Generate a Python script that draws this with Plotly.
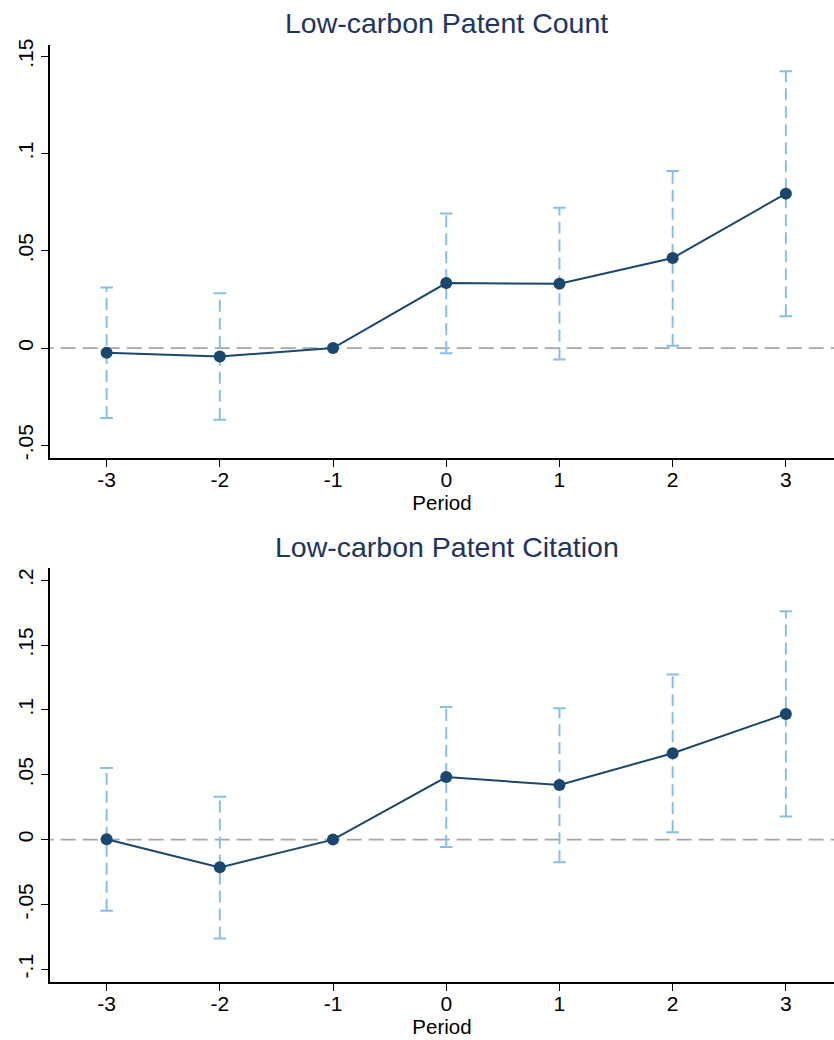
import plotly.graph_objects as go

periods = [-3, -2, -1, 0, 1, 2, 3]

# Panel 1: Low-carbon Patent Count
count_coef = [-0.0024, -0.0043, 0.0, 0.0334, 0.0331, 0.0463, 0.0794]
count_lo = [-0.0360, -0.0369, None, -0.0027, -0.0059, 0.0012, 0.0164]
count_hi = [0.0312, 0.0282, None, 0.0692, 0.0721, 0.0910, 0.1423]

# Panel 2: Low-carbon Patent Citation
cite_coef = [0.0003, -0.0214, 0.0, 0.0482, 0.0421, 0.0666, 0.0969]
cite_lo = [-0.0548, -0.0763, None, -0.0057, -0.0174, 0.0056, 0.0178]
cite_hi = [0.0553, 0.0330, None, 0.1023, 0.1013, 0.1273, 0.1761]

titles = ["Low-carbon Patent Count", "Low-carbon Patent Citation"]
y_tickvals = [[-0.05, 0, 0.05, 0.1, 0.15], [-0.1, -0.05, 0, 0.05, 0.1, 0.15, 0.2]]
y_ticktext = [["-.05", "0", ".05", ".1", ".15"], ["-.1", "-.05", "0", ".05", ".1", ".15", ".2"]]
y_ranges = [[-0.0566, 0.1558], [-0.1099, 0.2097]]
x_ticks = [-3, -2, -1, 0, 1, 2, 3]

NAVY = "#1a476f"
CI_COL = "#83c0ea"
FONT = "Liberation Sans, Arial, sans-serif"

fig = go.Figure()
W, H = 834, 1040
x_dom = [50 / W, 1.0]
y_doms = [[1 - 455.7 / H, 1 - 39.3 / H], [1 - 983.7 / H, 1 - 566 / H]]

panels = [(count_coef, count_lo, count_hi), (cite_coef, cite_lo, cite_hi)]
for i, (coef, lo, hi) in enumerate(panels):
    xa = "x" if i == 0 else "x2"
    ya = "y" if i == 0 else "y2"
    # zero reference line
    fig.add_trace(go.Scatter(x=[-3.6, 3.6], y=[0, 0], mode="lines",
                             line=dict(color="#a6a6a6", width=1.8, dash="15px,7px"),
                             xaxis=xa, yaxis=ya, showlegend=False, hoverinfo="skip"))
    # CI vertical dashed lines
    vx, vy, cx, cy = [], [], [], []
    for p, l, h in zip(periods, lo, hi):
        if l is None:
            continue
        vx += [p, p, None]
        vy += [l, h, None]
        cx += [p, p]
        cy += [l, h]
    fig.add_trace(go.Scatter(x=vx, y=vy, mode="lines",
                             line=dict(color=CI_COL, width=2, dash="12px,6px"),
                             xaxis=xa, yaxis=ya, showlegend=False, hoverinfo="skip"))
    fig.add_trace(go.Scatter(x=cx, y=cy, mode="markers",
                             marker=dict(symbol="line-ew", size=9,
                                         line=dict(color=CI_COL, width=2)),
                             xaxis=xa, yaxis=ya, showlegend=False, hoverinfo="skip"))
    # coefficient line + markers
    fig.add_trace(go.Scatter(x=periods, y=coef, mode="lines+markers",
                             line=dict(color=NAVY, width=2),
                             marker=dict(color=NAVY, size=12),
                             xaxis=xa, yaxis=ya, showlegend=False))

axis_common = dict(showline=True, linecolor="black", linewidth=1.5,
                   ticks="outside", ticklen=7, tickwidth=1.3, tickcolor="black",
                   showgrid=False, zeroline=False)

for i in range(2):
    sx = "" if i == 0 else "2"
    fig.update_layout(**{
        "xaxis" + sx: dict(axis_common, domain=x_dom, range=[-3.5, 3.425],
                           tickvals=x_ticks, ticktext=[str(t) for t in x_ticks],
                           anchor="y" + sx, ticklabelstandoff=-5,
                           tickfont=dict(family=FONT, size=21, color="black"),
                           title=dict(text="Period", standoff=0,
                                      font=dict(family=FONT, size=20.5, color="black"))),
        "yaxis" + sx: dict(axis_common, domain=y_doms[i], range=y_ranges[i],
                           tickvals=y_tickvals[i], ticktext=y_ticktext[i],
                           tickfont=dict(family=FONT, size=21, color="black"),
                           tickangle=-90, anchor="x" + sx),
    })

annotations = []
title_y = [1 - 17 / H, 1 - 545 / H]
for i, t in enumerate(titles):
    annotations.append(dict(text=t, x=446.5 / W, y=title_y[i], xref="paper", yref="paper",
                            xanchor="center", yanchor="middle", showarrow=False,
                            font=dict(family=FONT, size=28.5, color="#1e3461")))

fig.update_layout(width=W, height=H, margin=dict(l=0, r=0, t=0, b=0),
                  paper_bgcolor="white", plot_bgcolor="white",
                  annotations=annotations, showlegend=False)

fig.write_html("out.html")
